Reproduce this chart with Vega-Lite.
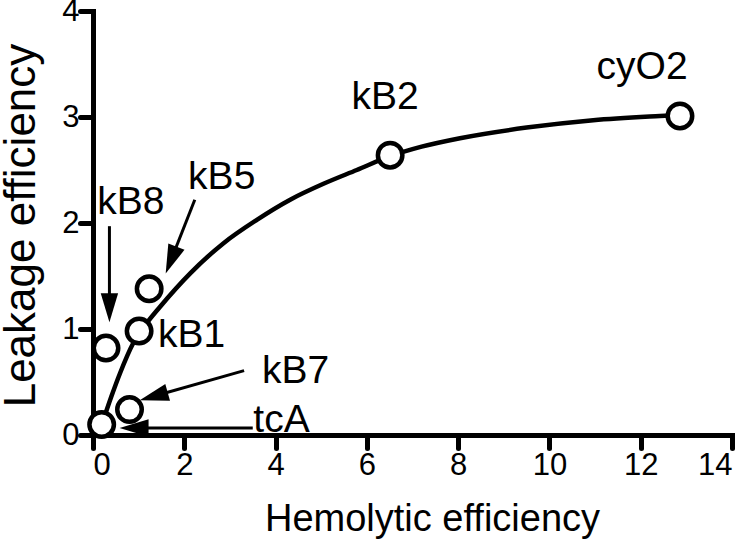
{
  "$schema": "https://vega.github.io/schema/vega-lite/v6.json",
  "width": 639,
  "height": 424,
  "autosize": "none",
  "padding": {"left": 93, "top": 11, "right": 18, "bottom": 109},
  "background": "white",
  "config": {
    "view": {"stroke": null},
    "font": "Liberation Sans",
    "axis": {
      "grid": false,
      "domainColor": "black",
      "domainWidth": 5,
      "domainCap": "square",
      "tickColor": "black",
      "tickWidth": 5,
      "tickSize": 13,
      "tickCap": "round",
      "labelColor": "black",
      "labelFont": "Liberation Sans",
      "labelFontSize": 31,
      "labelFontWeight": "normal",
      "titleColor": "black",
      "titleFont": "Liberation Sans",
      "titleFontWeight": "normal"
    }
  },
  "datasets": {
    "curve": [
      {"x": 0.21, "y": 0.12},
      {"x": 0.4, "y": 0.36},
      {"x": 0.59, "y": 0.58},
      {"x": 0.88, "y": 0.865},
      {"x": 1.15, "y": 1.04},
      {"x": 1.47, "y": 1.21},
      {"x": 2.13, "y": 1.525},
      {"x": 2.86, "y": 1.81},
      {"x": 3.59, "y": 2.03},
      {"x": 4.32, "y": 2.22},
      {"x": 5.05, "y": 2.37},
      {"x": 5.78, "y": 2.5},
      {"x": 6.51, "y": 2.63},
      {"x": 7.2, "y": 2.72},
      {"x": 8.04, "y": 2.8},
      {"x": 9.5, "y": 2.9},
      {"x": 10.96, "y": 2.97},
      {"x": 12.42, "y": 3.01},
      {"x": 12.86, "y": 3.02}
    ],
    "points": [
      {"name": "cyO2", "x": 12.86, "y": 3.01},
      {"name": "kB2", "x": 6.51, "y": 2.64},
      {"name": "kB5", "x": 1.23, "y": 1.38},
      {"name": "kB1", "x": 1.01, "y": 0.98},
      {"name": "kB8", "x": 0.285, "y": 0.82},
      {"name": "kB7", "x": 0.8, "y": 0.24},
      {"name": "tcA", "x": 0.19, "y": 0.1}
    ],
    "labels": [
      {"name": "cyO2", "x": 12.03, "y": 3.47},
      {"name": "kB2", "x": 6.4, "y": 3.19},
      {"name": "kB5", "x": 2.82, "y": 2.43},
      {"name": "kB8", "x": 0.83, "y": 2.2},
      {"name": "kB1", "x": 2.16, "y": 0.94},
      {"name": "kB7", "x": 4.44, "y": 0.6},
      {"name": "tcA", "x": 4.13, "y": 0.14}
    ],
    "arrows": [
      {"name": "kB8", "x": 0.36, "y": 1.97, "x2": 0.36, "y2": 1.2},
      {"name": "kB5", "x": 2.23, "y": 2.22, "x2": 1.71, "y2": 1.65},
      {"name": "kB7", "x": 3.31, "y": 0.607, "x2": 1.33, "y2": 0.366},
      {"name": "tcA", "x": 3.5, "y": 0.066, "x2": 0.9, "y2": 0.066}
    ]
  },
  "encoding": {
    "x": {"field": "x", "type": "quantitative",
      "scale": {"domain": [0, 14], "nice": false},
      "axis": {"values": [0, 2, 4, 6, 8, 10, 12, 14], "title": "Hemolytic efficiency",
        "titleFontSize": 38, "titleX": 339, "titleY": 95, "titleBaseline": "alphabetic",
        "labelPadding": 2}},
    "y": {"field": "y", "type": "quantitative",
      "scale": {"domain": [0, 4], "nice": false},
      "axis": {"values": [0, 1, 2, 3, 4], "title": "Leakage efficiency",
        "titleFontSize": 44, "titleX": -59, "titleY": 214, "titleAngle": -90,
        "titleBaseline": "alphabetic", "titleAlign": "center", "labelPadding": 1}}
  },
  "layer": [
    {"data": {"name": "curve"}, "mark": {"type": "line", "color": "black", "strokeWidth": 4.5, "interpolate": "monotone"}},
    {"data": {"name": "arrows"}, "mark": {"type": "rule", "color": "black", "strokeWidth": 3},
      "encoding": {"x2": {"field": "x2"}, "y2": {"field": "y2"}}},
    {"data": {"name": "arrows"}, "transform": [{"filter": "datum.name == 'kB8'"}],
      "mark": {"type": "point", "shape": "M0,-1L0.6,1L-0.6,1Z", "filled": true, "color": "black", "opacity": 1, "size": 841, "angle": 180},
      "encoding": {"x": {"field": "x2", "type": "quantitative"}, "y": {"field": "y2", "type": "quantitative"}}},
    {"data": {"name": "arrows"}, "transform": [{"filter": "datum.name == 'kB5'"}],
      "mark": {"type": "point", "shape": "M0,-1L0.6,1L-0.6,1Z", "filled": true, "color": "black", "opacity": 1, "size": 841, "angle": 201.7},
      "encoding": {"x": {"field": "x2", "type": "quantitative"}, "y": {"field": "y2", "type": "quantitative"}}},
    {"data": {"name": "arrows"}, "transform": [{"filter": "datum.name == 'kB7'"}],
      "mark": {"type": "point", "shape": "M0,-1L0.6,1L-0.6,1Z", "filled": true, "color": "black", "opacity": 1, "size": 841, "angle": 254.3},
      "encoding": {"x": {"field": "x2", "type": "quantitative"}, "y": {"field": "y2", "type": "quantitative"}}},
    {"data": {"name": "arrows"}, "transform": [{"filter": "datum.name == 'tcA'"}],
      "mark": {"type": "point", "shape": "M0,-1L0.6,1L-0.6,1Z", "filled": true, "color": "black", "opacity": 1, "size": 841, "angle": 270},
      "encoding": {"x": {"field": "x2", "type": "quantitative"}, "y": {"field": "y2", "type": "quantitative"}}},
    {"data": {"name": "points"}, "mark": {"type": "point", "shape": "circle", "filled": false, "fill": "white", "fillOpacity": 1, "stroke": "black", "strokeWidth": 4.5, "opacity": 1, "size": 600}},
    {"data": {"name": "labels"}, "mark": {"type": "text", "font": "Liberation Sans", "fontSize": 39, "color": "black", "align": "center", "baseline": "middle"},
      "encoding": {"text": {"field": "name"}}}
  ]
}
